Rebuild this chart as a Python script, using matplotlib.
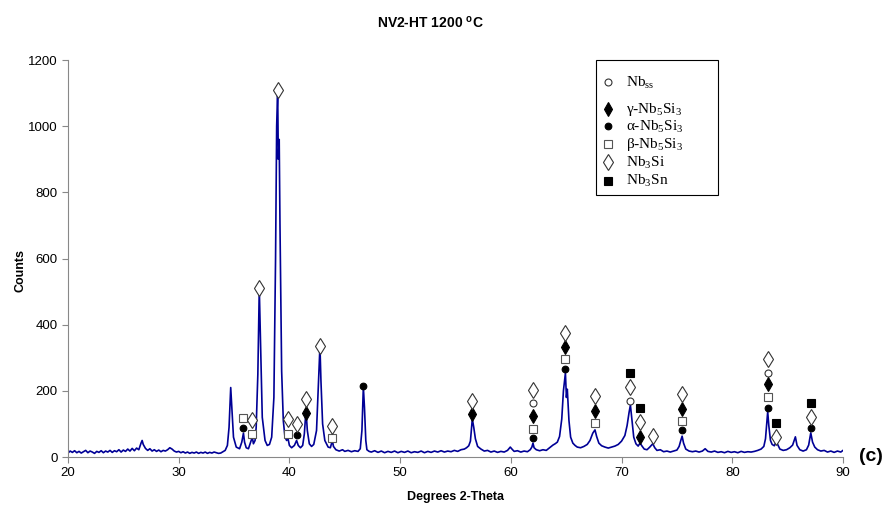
import numpy as np
import matplotlib.pyplot as plt
from matplotlib.patches import Rectangle

plt.rcParams['font.family'] = ['Liberation Sans', 'DejaVu Sans']
plt.rcParams['mathtext.fontset'] = 'custom'
plt.rcParams['mathtext.rm'] = 'Liberation Serif'
plt.rcParams['mathtext.bf'] = 'Liberation Sans:bold'

# XRD pattern (2-theta, counts)
tt_low = [20.0, 20.2, 20.4, 20.6, 20.8, 21.0, 21.2, 21.4, 21.6, 21.8, 22.0, 22.2, 22.4, 22.6, 22.8,
          23.0, 23.2, 23.4, 23.6, 23.8, 24.0, 24.2, 24.4, 24.6, 24.8, 25.0, 25.2, 25.4, 25.6, 25.8,
          26.0, 26.2, 26.4, 26.6, 26.7, 26.8, 27.0, 27.2, 27.4, 27.6, 27.8, 28.0, 28.2, 28.4, 28.6,
          28.8, 29.0, 29.2, 29.4, 29.6, 29.8, 30.0, 30.2, 30.4, 30.6, 30.8, 31.0, 31.2, 31.4, 31.6,
          31.8, 32.0, 32.2, 32.4, 32.6, 32.8, 33.0, 33.2, 33.4, 33.6, 33.8, 34.0, 34.2]
ct_low = [12, 18, 14, 19, 13, 17, 12, 16, 20, 13, 18, 15, 11, 17, 14,
          19, 13, 18, 15, 20, 14, 19, 16, 22, 15, 21, 17, 24, 18, 26,
          19, 27, 22, 42, 50, 38, 26, 20, 25, 18, 22, 17, 21, 16, 20,
          18, 22, 28, 24, 18, 15, 17, 13, 16, 12, 15, 11, 14, 12, 15,
          11, 14, 12, 15, 11, 14, 12, 15, 13, 11, 12, 16, 20]

tt_mid = [34.4, 34.55, 34.7, 34.8, 34.95, 35.2, 35.5, 35.7, 35.85, 35.95, 36.1, 36.3, 36.5, 36.65,
          36.75, 36.9, 37.0, 37.15, 37.28, 37.4, 37.55, 37.8, 38.0, 38.2, 38.4, 38.6, 38.75, 38.85,
          38.94, 39.0, 39.08, 39.15, 39.3, 39.45, 39.6, 39.75, 39.85, 40.0, 40.2, 40.45, 40.65, 40.8,
          41.0, 41.2, 41.35, 41.5, 41.62, 41.8, 42.0, 42.2, 42.45, 42.65, 42.76, 42.85, 43.0, 43.2,
          43.5, 43.7, 43.88, 43.98, 44.2, 44.5, 44.8, 45.0, 45.3, 45.6, 45.9, 46.2, 46.4, 46.55,
          46.68, 46.78, 46.9, 47.0, 47.2]
ct_mid = [35, 90, 210, 150, 60, 30, 25, 45, 72, 45, 28, 25, 45, 60,
          40, 50, 90, 250, 510, 330, 120, 50, 35, 38, 60, 180, 600, 1000,
          1110, 900, 960, 700, 260, 110, 60, 50, 60, 35, 28, 35, 50, 35,
          28, 35, 70, 142, 80, 40, 32, 38, 80, 250, 335, 230, 100, 50,
          30, 28, 50, 32, 22, 18, 22, 17, 20, 16, 19, 17, 25, 80,
          212, 150, 50, 22, 17]

tt_high = [47.4, 47.7, 48.0, 48.3, 48.6, 48.9, 49.2, 49.5, 49.8, 50.1, 50.4, 50.7, 51.0, 51.3,
           51.6, 51.9, 52.2, 52.5, 52.8, 53.1, 53.4, 53.7, 54.0, 54.3, 54.6, 54.9, 55.2, 55.5,
           55.8, 56.0, 56.2, 56.35, 56.52, 56.65, 56.8, 57.0, 57.3, 57.6, 57.9, 58.2, 58.5, 58.8,
           59.1, 59.4, 59.7, 59.95, 60.1, 60.3, 60.6, 60.9, 61.2, 61.5, 61.75, 61.9, 62.0, 62.1,
           62.3, 62.6, 62.9, 63.2, 63.5, 63.8, 64.0, 64.2, 64.4, 64.6, 64.75, 64.93, 65.02, 65.1,
           65.25, 65.4, 65.6, 65.8, 66.0, 66.3, 66.6, 66.9, 67.15, 67.4, 67.6, 67.75, 67.95, 68.2,
           68.5, 68.8, 69.1, 69.4, 69.7, 70.0, 70.3, 70.5, 70.68, 70.8, 70.95, 71.1, 71.3, 71.5,
           71.67, 71.85, 72.05, 72.3, 72.55, 72.82, 73.0, 73.2, 73.5, 73.8, 74.1, 74.4, 74.7, 75.0,
           75.2, 75.35, 75.47, 75.6, 75.8, 76.1, 76.4, 76.7, 77.0, 77.3, 77.55, 77.8, 78.1, 78.4,
           78.7, 79.0, 79.3, 79.6, 79.9, 80.2, 80.5, 80.8, 81.1, 81.4, 81.7, 82.0, 82.3, 82.6,
           82.85, 83.0, 83.2, 83.3, 83.45, 83.6, 83.8, 83.96, 84.1, 84.3, 84.6, 84.9, 85.2, 85.45,
           85.7, 85.85, 86.1, 86.4, 86.7, 86.9, 87.09, 87.25, 87.45, 87.7, 88.0, 88.3, 88.6, 88.9,
           89.2, 89.5, 89.8, 90.0]
ct_high = [15, 19, 14, 18, 13, 17, 14, 18, 13, 17, 14, 18, 13, 16,
           14, 18, 13, 17, 14, 18, 15, 19, 15, 18, 16, 20, 17, 22,
           24, 28, 34, 48, 115, 90, 55, 32, 24, 18, 20, 15, 18, 14,
           17, 15, 20, 30, 24, 17, 19, 15, 18, 16, 22, 30, 42, 28,
           22, 19, 22, 20, 28, 36, 40, 45, 62, 115, 200, 254, 180, 205,
           110, 60, 42, 35, 30, 28, 32, 38, 50, 72, 82, 62, 42, 34,
           30, 27, 30, 33, 38, 48, 65, 95, 135, 157, 110, 60, 40, 33,
           42, 33, 24, 22, 30, 40, 28, 20, 22, 16, 18, 15, 18, 21,
           32, 50, 63, 42, 24, 18, 16, 18, 15, 18, 25, 17, 15, 18,
           14, 16, 13, 17, 14, 16, 13, 17, 14, 16, 15, 17, 20, 24,
           32, 55, 137, 95, 50, 38, 34, 46, 38, 24, 20, 22, 28, 36,
           61, 35, 22, 18, 22, 36, 73, 45, 30, 22, 18, 20, 15, 18,
           14, 18, 15, 20]

# phase markers (2-theta, counts)
nbss_x = [62.0, 70.8, 83.2]
nbss_y = [164, 169, 255]
gamma_x = [41.5, 56.52, 62.0, 64.93, 67.6, 71.67, 75.47, 83.2]
gamma_y = [134, 129, 125, 333, 140, 61, 145, 220]
alpha_x = [35.85, 40.65, 46.68, 62.0, 64.93, 75.47, 83.2, 87.09]
alpha_y = [87, 66, 215, 58, 265, 82, 149, 89]
beta_x = [35.85, 36.65, 39.85, 43.88, 62.0, 64.93, 67.6, 75.47, 83.2]
beta_y = [118, 70, 70, 57, 85, 295, 102, 109, 180]
nb3si_x = [36.65, 37.28, 38.94, 39.85, 40.65, 41.5, 42.76, 43.88, 56.52, 62.0, 64.93, 67.6,
           70.8, 71.67, 72.82, 75.47, 83.2, 83.96, 87.09]
nb3si_y = [112, 511, 1109, 115, 100, 175, 336, 95, 169, 202, 374, 184,
           212, 105, 63, 189, 295, 61, 122]
nb3sn_x = [70.8, 71.67, 83.96, 87.09]
nb3sn_y = [255, 147, 102, 162]

labels = ['Nb$_{\\mathregular{ss}}$', 'γ-Nb$_5$Si$_3$', 'α-Nb$_5$Si$_3$',
          'β-Nb$_5$Si$_3$', 'Nb$_3$Si', 'Nb$_3$Sn']

two_theta = tt_low + tt_mid + tt_high
counts = ct_low + ct_mid + ct_high

fig = plt.figure(figsize=(8.93, 5.07), dpi=100)
ax = fig.add_axes([0.0761, 0.0986, 0.8679, 0.783])

ax.plot(two_theta, counts, color='#000096', lw=1.2, zorder=2)

# marker styles shared by the plot and the key box
styles = [
    dict(marker='o', ms=5, mfc='white', mec='#333333'),
    dict(marker='d', ms=7, mfc='black', mec='black'),
    dict(marker='o', ms=4.8, mfc='black', mec='black'),
    dict(marker='s', ms=6, mfc='white', mec='#555555'),
    dict(marker='d', ms=8.3, mfc='white', mec='#333333'),
    dict(marker='s', ms=6.3, mfc='black', mec='black'),
]
series = [(nbss_x, nbss_y), (gamma_x, gamma_y), (alpha_x, alpha_y),
          (beta_x, beta_y), (nb3si_x, nb3si_y), (nb3sn_x, nb3sn_y)]
for (xs, ys), st in zip(series, styles):
    ax.plot(xs, ys, ls='none', mew=0.8, zorder=3, **st)

# key box drawn like the original text box
ax.add_patch(Rectangle((0.681, 0.66), 0.158, 0.34, transform=ax.transAxes,
                       fill=False, ec='black', lw=0.8, clip_on=False))
key_rows = [0.944, 0.876, 0.833, 0.788, 0.742, 0.696]
for yk, st, lab in zip(key_rows, styles, labels):
    ax.plot([0.697], [yk], transform=ax.transAxes, ls='none', mew=0.8,
            clip_on=False, **st)
    ax.text(0.720, yk, lab, transform=ax.transAxes, fontsize=11,
            family='Liberation Serif', va='center', ha='left')

ax.set_xlim(20, 90)
ax.set_ylim(0, 1200)
ax.set_xticks(range(20, 91, 10))
ax.set_yticks(range(0, 1201, 200))
ax.tick_params(labelsize=9.5, length=4, color='#888888', width=0.8)
for s in ['top', 'right']:
    ax.spines[s].set_visible(False)
for s in ['left', 'bottom']:
    ax.spines[s].set_color('#888888')
    ax.spines[s].set_linewidth(0.8)

ax.set_xlabel('Degrees 2-Theta', fontsize=9, fontweight='bold', labelpad=8)
fig.text(0.0235, 0.467, 'Counts', fontsize=9, fontweight='bold', rotation=90,
         ha='center', va='center')
fig.text(0.482, 0.955, r'NV2-HT 1200 $^{\mathbf{o}}$C', fontsize=10, fontweight='bold',
         ha='center', va='center')
fig.text(0.975, 0.1, '(c)', fontsize=14, fontweight='bold', ha='center', va='center')

fig.savefig('out.png', dpi=100)
